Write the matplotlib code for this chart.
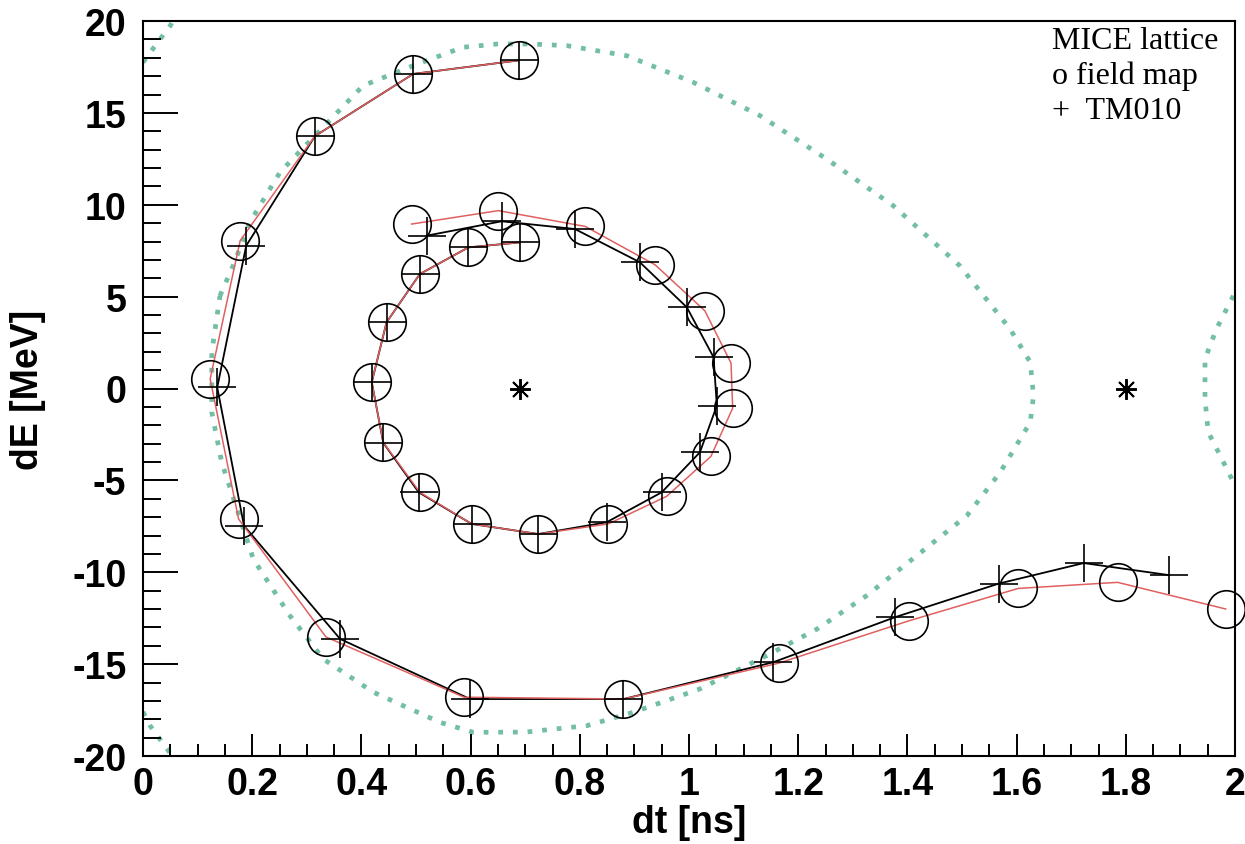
import matplotlib
matplotlib.use('Agg')
import matplotlib.pyplot as plt
from matplotlib.ticker import MultipleLocator, FuncFormatter

plt.rcParams['font.family'] = ['Liberation Sans', 'DejaVu Sans']

# separatrix of the rf bucket (main bucket + pieces of the neighbours)
sep_dt = [0.141, 0.165, 0.196, 0.251, 0.315, 0.403, 0.495, 0.586, 0.65, 0.709, 0.776,
          0.886, 1.008, 1.13, 1.252, 1.374, 1.496, 1.588, 1.625, 1.631, 1.625, 1.57,
          1.509, 1.417, 1.325, 1.234, 1.142, 1.02, 0.898, 0.813, 0.70, 0.605, 0.544,
          0.422, 0.33, 0.269, 0.202, 0.144, 0.126, 0.126, 0.141]
sep_dE = [5.05, 6.68, 9.06, 11.77, 13.76, 16.48, 17.57, 18.57, 18.75, 18.75, 18.66,
          18.11, 16.66, 14.85, 12.49, 9.95, 6.68, 3.24, 1.43, -0.39, -1.84, -4.56,
          -6.92, -9.1, -11.28, -13.1, -14.54, -16.35, -17.62, -18.35, -18.7, -18.71, -18.17,
          -16.53, -14.72, -12.36, -9.28, -4.0, -1.3, 1.98, 5.05]
sep_tl_dt = [0.0, 0.018, 0.05, 0.058]
sep_tl_dE = [17.75, 18.48, 19.75, 20.2]
sep_bl_dt = [0.0, 0.013, 0.053, 0.058]
sep_bl_dE = [-17.6, -18.35, -19.98, -20.2]
sep_r_dt = [1.997, 1.966, 1.945, 1.945, 1.951, 1.973, 1.997]
sep_r_dE = [5.05, 3.24, 1.6, -0.57, -2.38, -3.66, -5.1]

# field map tracking (o)
fm_in_dt = [0.492, 0.651, 0.810, 0.938, 1.029, 1.077, 1.080, 1.040, 0.959, 0.852,
            0.724, 0.602, 0.507, 0.440, 0.419, 0.446, 0.507, 0.596, 0.690]
fm_in_dE = [8.95, 9.68, 8.82, 6.73, 4.23, 1.38, -1.07, -3.70, -5.87, -7.37,
            -7.92, -7.37, -5.65, -2.93, 0.34, 3.60, 6.23, 7.68, 7.95]
fm_out_dt = [0.689, 0.495, 0.315, 0.178, 0.123, 0.175, 0.335, 0.588, 0.880,
             1.164, 1.403, 1.603, 1.785, 1.983]
fm_out_dE = [17.86, 17.12, 13.74, 8.05, 0.52, -7.10, -13.52, -16.80, -16.90,
             -14.95, -12.64, -10.88, -10.55, -12.0]

# TM010 pillbox tracking (+)
tm_in_dt = [0.520, 0.657, 0.791, 0.910, 0.996, 1.045, 1.051, 1.020, 0.950, 0.849,
            0.724, 0.602, 0.505, 0.440, 0.419, 0.446, 0.507, 0.596, 0.690]
tm_in_dE = [8.32, 9.10, 8.68, 6.87, 4.42, 1.70, -0.93, -3.47, -5.65, -7.28,
            -7.92, -7.37, -5.65, -2.95, 0.34, 3.60, 6.23, 7.68, 7.95]
tm_out_dt = [0.689, 0.495, 0.315, 0.189, 0.136, 0.185, 0.361, 0.599, 0.880,
             1.154, 1.377, 1.567, 1.723, 1.880]
tm_out_dE = [17.86, 17.12, 13.74, 7.77, 0.06, -7.47, -13.63, -16.90, -16.90,
             -14.90, -12.45, -10.62, -9.50, -10.16]

# synchronous points
sync_dt = [0.69, 1.80]
sync_dE = [0.0, 0.0]

fig = plt.figure(figsize=(12.45, 8.45), dpi=100)
ax = fig.add_axes([143 / 1245, 88 / 845, 1092 / 1245, 735 / 845])

green = '#72bfa2'
for xs, ys in [(sep_dt, sep_dE), (sep_tl_dt, sep_tl_dE),
               (sep_bl_dt, sep_bl_dE), (sep_r_dt, sep_r_dE)]:
    ax.plot(xs, ys, color=green, lw=3.4, dashes=(1, 2.1),
            dash_capstyle='butt', zorder=1)

# TM010: black line with + markers
for xs, ys in [(tm_in_dt, tm_in_dE), (tm_out_dt, tm_out_dE)]:
    ax.plot(xs, ys, color='black', lw=1.3, zorder=2)
    ax.plot(xs, ys, ls='none', marker='+', ms=28, mew=1.2, color='black',
            zorder=4, clip_on=False)

# field map: red line with o markers
for xs, ys in [(fm_in_dt, fm_in_dE), (fm_out_dt, fm_out_dE)]:
    ax.plot(xs, ys, color='#e06060', lw=1.1, zorder=3)
    ax.plot(xs, ys, ls='none', marker='o', ms=27, mew=1.2, mfc='none',
            mec='black', zorder=4, clip_on=False)

ax.plot(sync_dt, sync_dE, ls='none', marker=(8, 2, 0), ms=15, mew=1.4,
        color='black', zorder=4)

ax.set_xlim(0, 2)
ax.set_ylim(-20, 20)
ax.xaxis.set_major_locator(MultipleLocator(0.2))
ax.xaxis.set_minor_locator(MultipleLocator(0.05))
ax.yaxis.set_major_locator(MultipleLocator(5))
ax.yaxis.set_minor_locator(MultipleLocator(1))
ax.xaxis.set_major_formatter(FuncFormatter(lambda v, p: '%g' % round(v, 2)))
ax.yaxis.set_major_formatter(FuncFormatter(lambda v, p: '%g' % v))

ax.tick_params(which='both', direction='in', width=1.4, labelsize=27)
ax.tick_params(axis='x', which='major', length=16, pad=7)
ax.tick_params(axis='x', which='minor', length=9)
ax.tick_params(axis='y', which='major', length=25, pad=12)
ax.tick_params(axis='y', which='minor', length=13)
for lab in ax.get_xticklabels() + ax.get_yticklabels():
    lab.set_fontweight('bold')
for sp in ax.spines.values():
    sp.set_linewidth(1.5)

ax.set_xlabel('dt [ns]', fontsize=27, fontweight='bold', va='center')
ax.set_ylabel('dE [MeV]', fontsize=27, fontweight='bold', va='center')
ax.xaxis.set_label_coords(0.5, -0.09)
ax.yaxis.set_label_coords(-0.105, 0.5)

fig.text(1052 / 1245, 1 - 27 / 845,
         'MICE lattice\no field map\n+  TM010',
         family='Liberation Serif', fontsize=23, va='top', ha='left',
         linespacing=1.25)

fig.savefig('out.png', dpi=100)
